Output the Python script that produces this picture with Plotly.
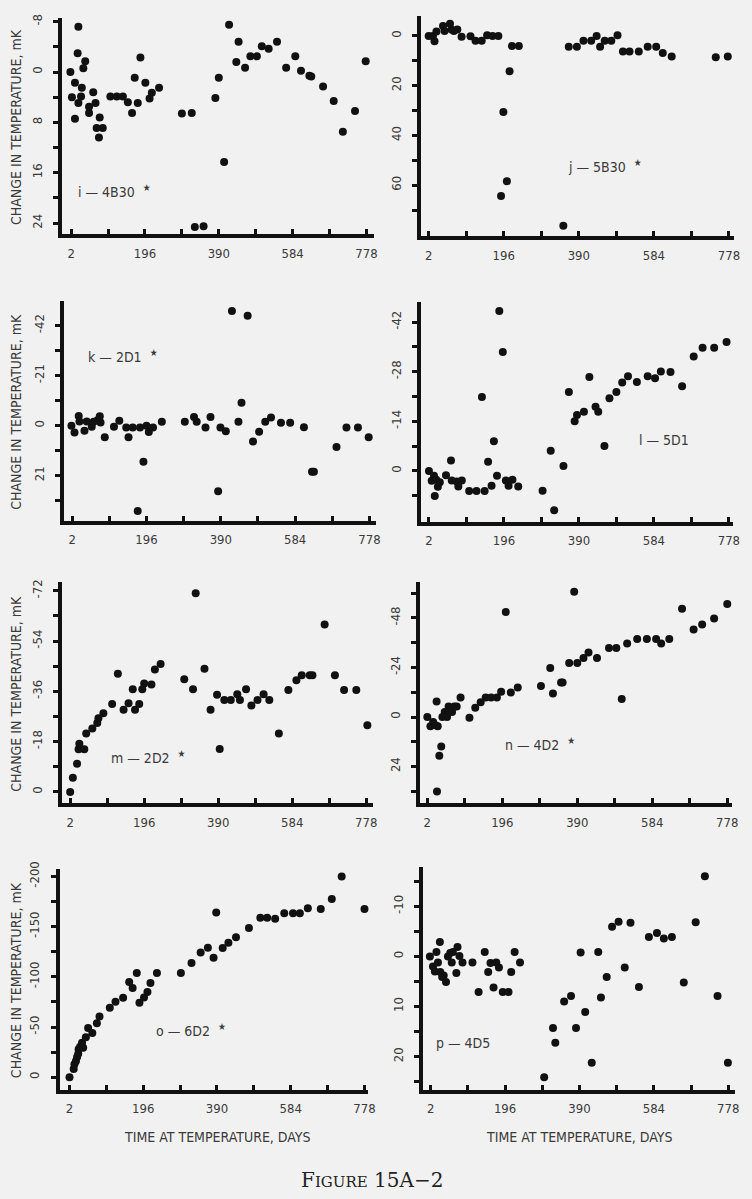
import plotly.graph_objects as go

# ---------------- data ----------------
days_i = [0,4,12,12,21,19,21,28,30,34,39,49,49,60,66,69,77,75,85,105,122,138,151,162,169,177,184,197,208,214,233,293,319,327,350,381,390,404,417,436,442,459,473,490,503,521,543,567,591,606,628,633,664,692,716,748,776]
vals_i = [0,4.0,1.7,7.4,-7.2,-3.0,4.9,3.9,2.5,-0.6,-1.7,5.5,6.5,3.2,4.9,8.9,7.2,10.4,8.9,3.9,3.9,3.9,4.8,6.5,0.9,4.9,-2.3,1.7,4.2,3.3,2.5,6.6,6.5,24.6,24.5,4.1,0.9,14.3,-7.5,-1.6,-4.8,-0.7,-2.5,-2.5,-4.1,-3.7,-4.8,-0.7,-2.5,-0.2,0.6,0.7,2.3,4.6,9.5,6.2,-1.7]

days_j = [2,13,17,22,39,43,57,61,67,76,87,110,123,139,153,167,182,189,195,204,211,217,235,350,364,385,402,422,436,445,457,474,490,504,521,545,568,590,607,630,744,775]
vals_j = [0,0,2.2,-1.8,-4,-2,-4.9,-2.6,-2,-2.6,0.3,0.1,2,2,-0.3,0,0,64.4,30.6,58.4,14.2,4.1,4.1,76.3,4.4,4.4,2,2,0,4.4,2,2,-0.3,6.3,6.3,6.3,4.4,4.4,6.9,8.3,8.6,8.3]

days_k = [0,8,19,21,34,40,53,58,68,74,76,87,111,125,143,149,160,173,179,188,196,202,213,236,296,320,327,350,363,383,389,403,419,436,444,460,474,490,506,521,547,571,607,628,633,692,718,748,776]
vals_k = [0,2.8,-4.1,-1.8,2.1,-1.8,0.4,-1.7,-2.3,-4,-1.4,4.8,0.4,-2.1,0.7,4.8,0.7,35.8,0.7,15.1,0,2.6,0.7,-1.7,-1.7,-3.7,-1.7,0.7,-3.7,27.5,0.7,2.3,-48.1,-1.7,-9.6,-46.1,6.6,2.5,-1.7,-3.4,-1.2,-1.2,0.6,19.3,19.3,8.9,0.7,0.7,4.8]

days_l = [2,9,15,17,21,25,30,46,59,61,74,78,87,106,125,139,146,155,164,170,178,184,193,201,208,218,233,296,317,326,350,364,379,385,403,417,433,440,456,469,487,502,517,540,568,587,602,627,657,687,710,740,772]
vals_l = [0,2.8,1.4,7.1,2.5,4.5,3.2,1.2,-2.9,2.7,3,4.4,2.7,5.7,5.7,-20.9,5.7,-2.6,4.2,-8.4,1.4,-45.2,-33.6,2.7,4.2,2.5,4.4,5.6,-5.7,11.1,-1.4,-22.3,-14,-15.8,-16.7,-26.5,-18.1,-16.7,-7,-20.5,-22.3,-25,-26.7,-25.1,-26.7,-26.2,-28.1,-27.9,-23.9,-32.3,-34.8,-34.8,-36.4]

days_m = [2,9,20,24,26,39,44,60,73,76,89,112,127,142,155,166,172,183,191,196,215,224,239,301,324,331,354,370,387,394,406,423,440,447,463,477,493,509,524,549,574,595,609,630,637,669,696,720,752,781]
vals_m = [0,-5.1,-10.1,-15.3,-17.2,-15.3,-20.9,-22.7,-24.7,-26.4,-28.2,-31.5,-42.3,-29.4,-31.7,-36.8,-29.4,-31.5,-36.8,-38.8,-38.5,-43.8,-45.8,-40.3,-36.8,-71.1,-44.1,-29.4,-34.8,-15.4,-32.9,-32.9,-35,-32.9,-36.8,-30.9,-32.9,-35,-32.9,-20.9,-36.5,-40,-41.8,-41.8,-41.8,-59.9,-41.8,-36.5,-36.5,-23.9]

days_n = [2,10,17,23,26,27,29,33,38,41,47,53,57,60,66,72,78,88,111,126,140,153,167,182,193,205,218,236,296,320,327,348,352,369,382,390,406,419,441,472,491,505,519,545,570,594,607,628,661,691,713,744,778]
vals_n = [0,4.5,2.4,4,-7.5,36.1,4.5,18.8,14.3,0,-2.4,0,-5.1,-3.2,-2.4,-5.1,-5.1,-9.5,0.3,-4.5,-7.2,-9.5,-9.5,-9.5,-12.2,-50.9,-11.9,-14.3,-15.1,-23.8,-11.4,-16.7,-16.7,-26.2,-60.7,-26.2,-28.6,-31.3,-28.6,-33.4,-33.4,-8.7,-35.6,-37.8,-37.8,-37.8,-35.6,-37.8,-52.5,-42.4,-44.8,-47.7,-54.7]

days_o = [2,13,15,19,22,25,26,30,35,38,45,51,62,74,81,108,123,143,159,168,179,186,198,207,215,232,295,323,347,366,381,388,405,420,440,474,504,522,543,567,590,608,629,663,692,718,778]
vals_o = [0,-8.2,-13.1,-16.3,-20.3,-23.5,-27.8,-30.4,-34.3,-29.4,-39.9,-49,-44.1,-53.9,-60.5,-69.3,-75.2,-79.1,-94.8,-88.9,-103.9,-74.2,-79.4,-85,-93.8,-103.9,-103.9,-113.7,-124.2,-129.1,-119,-164,-128.8,-134,-139.5,-148.7,-158.8,-158.8,-157.8,-163.4,-163.4,-163.4,-168.3,-167.6,-177.5,-200,-167.6]

days_p = [0,8,13,17,21,26,27,32,36,42,47,53,57,60,69,72,77,85,111,127,143,152,158,166,173,180,190,205,212,221,235,298,321,327,350,368,381,393,405,422,439,446,461,475,492,508,523,545,571,592,610,631,662,693,717,750,777]
vals_p = [0,2,3,-0.9,1.2,-2.9,3.1,4.1,3.8,5.1,0,-0.7,1.2,-0.9,3.3,-1.9,-0.1,1.2,1.2,7.1,-0.9,3.1,1.3,6.2,1.2,2.2,7.1,7.1,3.1,-0.9,1.2,24.1,14.3,17.2,9,7.9,14.3,-0.8,11.1,21.2,-0.9,8.2,4.1,-5.9,-6.9,2.2,-6.7,6.1,-3.9,-4.7,-3.6,-3.9,5.2,-6.8,-16,7.9,21.2]

# labelled ticks and unlabelled (minor) ticks
x_tick_vals = [2, 196, 390, 584, 778]
x_tick_text = ["2", "196", "390", "584", "778"]
x_minor_vals = [99, 293, 487, 681]

ytick_i = [-8, 0, 8, 16, 24];           ylab_i = ["-8", "0", "8", "16", "24"];         yminor_i = [-4, 4, 12, 20]
ytick_j = [0, 20, 40, 60];              ylab_j = ["0", "20", "40", "60"];              yminor_j = [10, 30, 50, 70]
ytick_k = [-42, -21, 0, 21];            ylab_k = ["-42", "-21", "0", "21"];            yminor_k = [-31.5, -10.5, 10.5, 31.5]
ytick_l = [-42, -28, -14, 0];           ylab_l = ["-42", "-28", "-14", "0"];           yminor_l = [-35, -21, -7, 7]
ytick_m = [-72, -54, -36, -18, 0];      ylab_m = ["-72", "-54", "-36", "-18", "0"];    yminor_m = [-63, -45, -27, -9]
ytick_n = [-48, -24, 0, 24];            ylab_n = ["-48", "-24", "0", "24"];            yminor_n = [-60, -36, -12, 12, 36]
ytick_o = [-200, -150, -100, -50, 0];   ylab_o = ["-200", "-150", "-100", "-50", "0"]; yminor_o = [-175, -125, -75, -25]
ytick_p = [-10, 0, 10, 20];             ylab_p = ["-10", "0", "10", "20"];             yminor_p = [-15, -5, 5, 15, 25]

panel_labels = ["i — 4B30", "j — 5B30", "k — 2D1", "l — 5D1",
                "m — 2D2", "n — 4D2", "o — 6D2", "p — 4D5"]
panel_star = [True, True, True, False, True, True, True, False]

y_title = "CHANGE IN TEMPERATURE, mK"
x_title = "TIME AT TEMPERATURE, DAYS"

# ---------------- layout geometry (pixels in a 752 x 1199 page) ----------------
W, H = 752, 1199
BG = "#f1f1f1"
INK = "#111111"
TXT = "#3a3a3a"
FONT = "Liberation Sans Narrow, DejaVu Sans Condensed, Arial Narrow, sans-serif"

# (left, right, top, bottom) of the axis lines, in px
geo = [
    (61, 378, 10, 230), (424, 741.7, 8.3, 231.7),
    (62.7, 380, 295, 518.3), (423.3, 741, 296, 519.3),
    (61, 376.7, 578.3, 802.7), (422.3, 740, 578.3, 802.7),
    (58.3, 371.7, 866.7, 1091), (426, 742.7, 865, 1091),
]
xranges = [[-21.2, 797.8], [-16.7, 790.6], [-19.4, 795], [-19.2, 789],
           [-18.6, 795], [-17.5, 790.6], [-23.9, 786.6], [-16.8, 795]]
yranges = [[25.8, -8.6], [80.5, -7.9], [39.9, -52.3], [14.4, -47.7],
           [4.1, -75], [41.8, -65.2], [12.4, -207.5], [26.6, -17.8]]
# label positions (px): text left x, center y
label_pos = [(77, 184), (572, 159), (87, 350), (644, 435),
             (110, 754), (508, 741), (156, 1029), (439, 1042)]

series = [(days_i, vals_i), (days_j, vals_j), (days_k, vals_k), (days_l, vals_l),
          (days_m, vals_m), (days_n, vals_n), (days_o, vals_o), (days_p, vals_p)]
yticks = [(ytick_i, ylab_i, yminor_i), (ytick_j, ylab_j, yminor_j),
          (ytick_k, ylab_k, yminor_k), (ytick_l, ylab_l, yminor_l),
          (ytick_m, ylab_m, yminor_m), (ytick_n, ylab_n, yminor_n),
          (ytick_o, ylab_o, yminor_o), (ytick_p, ylab_p, yminor_p)]

for d, v in series:
    assert len(d) == len(v)

fig = go.Figure()
layout = dict(width=W, height=H, margin=dict(l=0, r=0, t=0, b=0),
              paper_bgcolor=BG, plot_bgcolor=BG, showlegend=False,
              font=dict(family=FONT, color=TXT))
annotations = []

for k in range(8):
    xl, xr, yt, yb = geo[k]
    sfx = "" if k == 0 else str(k + 1)
    fig.add_trace(go.Scatter(
        x=series[k][0], y=series[k][1], mode="markers",
        marker=dict(size=8, color=INK, line=dict(width=0)),
        xaxis="x" + sfx, yaxis="y" + sfx, cliponaxis=False, hoverinfo="x+y"))
    layout["xaxis" + sfx] = dict(
        domain=[(xl + 2) / W, xr / W], anchor="y" + sfx, range=xranges[k],
        showgrid=False, zeroline=False, showline=True, linecolor=INK, linewidth=4,
        ticks="inside", ticklen=5, tickwidth=3, tickcolor=INK,
        tickmode="array", tickvals=x_tick_vals, ticktext=x_tick_text,
        ticklabelstandoff=4,
        minor=dict(tickmode="array", tickvals=x_minor_vals, ticks="inside",
                   ticklen=5, tickwidth=3, tickcolor=INK, showgrid=False),
        tickfont=dict(family=FONT, size=13, color=TXT))
    tv, tt, tm = yticks[k]
    layout["yaxis" + sfx] = dict(
        domain=[1 - (yb - 2) / H, 1 - yt / H], anchor="x" + sfx, range=yranges[k],
        showgrid=False, zeroline=False, showline=True, linecolor=INK, linewidth=4,
        ticks="outside", ticklen=5, tickwidth=3, tickcolor=INK,
        tickmode="array", tickvals=tv, ticktext=tt, tickangle=-90,
        ticklabelstandoff=6,
        minor=dict(tickmode="array", tickvals=tm, ticks="outside",
                   ticklen=5, tickwidth=3, tickcolor=INK, showgrid=False),
        tickfont=dict(family=FONT, size=13, color=TXT))
    # panel label
    lx, ly = label_pos[k]
    txt = panel_labels[k] + ("  <sup>★</sup>" if panel_star[k] else "")
    annotations.append(dict(xref="paper", yref="paper", x=lx / W, y=1 - ly / H,
                            xanchor="left", yanchor="middle", showarrow=False,
                            text=txt, font=dict(family=FONT, size=14, color=TXT)))
    # y title on left column
    if k % 2 == 0:
        annotations.append(dict(xref="paper", yref="paper", x=16 / W,
                                y=1 - ((yt + yb) / 2) / H, xanchor="center",
                                yanchor="middle", showarrow=False, textangle=-90,
                                text=y_title,
                                font=dict(family=FONT, size=14, color=TXT)))

for cx in (220, 586):
    annotations.append(dict(xref="paper", yref="paper", x=cx / W, y=1 - 1137 / H,
                            xanchor="center", yanchor="middle", showarrow=False,
                            text=x_title, font=dict(family=FONT, size=14, color=TXT)))

annotations.append(dict(
    xref="paper", yref="paper", x=376 / W, y=1 - 1180 / H, xanchor="center",
    yanchor="middle", showarrow=False,
    text="F<span style='font-size:15px'>IGURE</span> 15A−2",
    font=dict(family="DejaVu Serif, Liberation Serif, serif", size=20, color="#222222")))

layout["annotations"] = annotations
fig.update_layout(**layout)
fig.write_html("out.html", config={"displayModeBar": False},
               post_script="document.body.style.margin='0';document.body.style.background='%s';" % BG)
